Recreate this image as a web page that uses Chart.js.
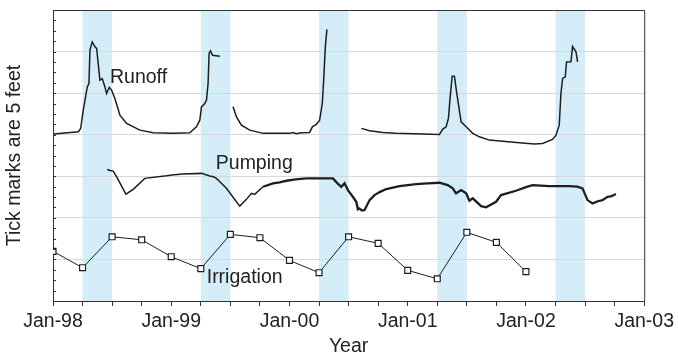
<!DOCTYPE html>
<html><head><meta charset="utf-8">
<script src="https://cdn.jsdelivr.net/npm/chart.js@4.4.1/dist/chart.umd.min.js"></script>
<style>html,body{margin:0;padding:0;background:#fff}canvas{display:block}</style>
</head><body>
<canvas id="c" width="678" height="356"></canvas>
<script>
// x values are months since Jan-98, y values are in tick units (1 tick = 5 feet)
const yearLabels = ['Jan-98','Jan-99','Jan-00','Jan-01','Jan-02','Jan-03'];
const bandStarts = [3, 15, 27, 39, 51];
const bandEnds   = [6, 18, 30, 42, 54];

const runoffSeg1 = [[0.1,16.06],[2.56,16.28],[2.81,16.6],[3.07,18.37],[3.48,20.6],[3.65,20.93],[3.75,24.13],[3.98,24.93],[4.26,24.45],[4.43,24.3],[4.76,21.25],[5.0,21.4],[5.27,20.6],[5.44,19.97],[5.71,20.55],[5.95,20.29],[6.28,19.49],[6.79,17.88],[7.47,17.09],[8.82,16.44],[10.17,16.18],[12.19,16.13],[13.88,16.18],[14.56,16.76],[14.9,17.4],[15.07,18.68],[15.4,19.0],[15.58,19.33],[15.74,20.93],[15.84,23.82],[15.98,24.07],[16.19,23.65],[16.93,23.56]];
const runoffSeg2 = [[18.27,18.68],[18.62,17.72],[19.12,16.92],[19.97,16.44],[21.31,16.13],[24.02,16.13],[24.35,16.22],[24.7,16.09],[25.21,16.18],[26.05,16.22],[26.32,16.76],[26.72,16.99],[27.06,17.4],[27.33,19.0],[27.47,21.25],[27.64,24.45],[27.8,26.13]];
const runoffSeg3 = [[31.29,16.61],[32.13,16.38],[33.48,16.22],[34.83,16.13],[37.53,16.06],[39.22,16.03],[39.56,16.54],[39.9,16.76],[40.13,17.57],[40.31,19.64],[40.51,21.63],[40.74,21.63],[40.98,19.97],[41.42,17.24],[41.93,16.76],[42.6,16.13],[43.27,15.8],[44.29,15.48],[47.33,15.22],[48.85,15.1],[49.69,15.16],[50.7,15.55],[51.05,15.96],[51.21,16.44],[51.38,16.92],[51.55,19.97],[51.72,21.41],[51.99,21.57],[52.12,23.0],[52.57,23.01],[52.73,24.49],[53.08,23.97],[53.24,23.01]];
const pumping = [[5.5,12.66],[5.8,12.55],[6.11,12.5],[6.46,11.95],[7.4,10.29],[8.14,10.74],[9.32,11.8],[11.52,12.05],[12.03,12.12],[13.21,12.21],[15.07,12.28],[15.91,12.02],[16.3,11.95],[16.59,11.8],[16.93,11.47],[17.6,10.84],[18.95,9.13],[19.63,9.78],[20.14,10.36],[20.47,10.26],[21.31,10.99],[22.33,11.32],[23.0,11.42],[23.69,11.57],[24.6,11.7],[25.71,11.8],[28.41,11.8],[28.9,11.3],[29.26,10.99],[29.59,11.32],[29.93,10.67],[30.43,10.03],[30.78,9.55],[30.94,8.82],[31.11,8.9],[31.35,8.7],[31.62,8.75],[32.13,9.71],[32.63,10.19],[33.2,10.5],[33.82,10.77],[35.17,11.06],[36.86,11.25],[38.0,11.32],[39.22,11.38],[40.06,11.15],[40.57,10.84],[40.91,10.36],[41.42,10.67],[41.93,10.36],[42.26,9.64],[42.6,9.88],[43.45,9.13],[43.95,9.01],[44.97,9.55],[45.47,10.19],[46.99,10.61],[48.0,10.95],[48.68,11.15],[50.37,11.06],[52.4,11.06],[53.2,11.0],[53.74,10.84],[54.25,9.71],[54.76,9.39],[55.3,9.6],[55.77,9.71],[56.28,10.03],[56.7,10.1],[57.13,10.29]];
const irrigationMonths = [0, 3, 6, 9, 12, 15, 18, 21, 24, 27, 30, 33, 36, 39, 42, 45, 48];
const irrigationValues = [4.78, 3.2, 6.18, 5.89, 4.26, 3.11, 6.41, 6.09, 3.91, 2.72, 6.18, 5.55, 2.95, 2.14, 6.61, 5.64, 2.82];
const seriesNames = ['Runoff', 'Pumping', 'Irrigation'];
const nameAnchorX = [5.78, 16.52, 15.6];
const nameAnchorY = [20.93, 12.69, 1.78];

const FONT = '"Liberation Sans", Arial, sans-serif';
const toXY = a => a.map(p => ({x: p[0], y: p[1]}));

const bandPlugin = {
  id: 'bands',
  beforeDraw(chart) {
    const {ctx, chartArea: a, scales: {x}} = chart;
    ctx.save();
    ctx.fillStyle = '#d5ecf9';
    for (let i = 0; i < bandStarts.length; i++) {
      const x1 = x.getPixelForValue(bandStarts[i]);
      const x2 = x.getPixelForValue(bandEnds[i]);
      ctx.fillRect(x1, a.top, x2 - x1, a.bottom - a.top);
    }
    ctx.restore();
  }
};

const framePlugin = {
  id: 'frame',
  afterDatasetsDraw(chart) {
    const {ctx, chartArea: a, scales: {x, y}} = chart;
    ctx.save();
    ctx.strokeStyle = '#333';
    ctx.lineWidth = 1;
    ctx.beginPath();
    ctx.moveTo(a.left, a.top + 0.5);
    ctx.lineTo(a.right + 0.5, a.top + 0.5);
    ctx.lineTo(a.right + 0.5, a.bottom);
    ctx.stroke();
    ctx.beginPath();
    y.ticks.forEach(t => {
      const py = Math.round(y.getPixelForValue(t.value)) + 0.5;
      ctx.moveTo(a.left, py);
      ctx.lineTo(a.left + 3, py);
    });
    ctx.stroke();
    ctx.fillStyle = '#222';
    ctx.font = '19.5px ' + FONT;
    ctx.textAlign = 'left';
    ctx.textBaseline = 'alphabetic';
    for (let i = 0; i < seriesNames.length; i++) {
      ctx.fillText(seriesNames[i], x.getPixelForValue(nameAnchorX[i]), y.getPixelForValue(nameAnchorY[i]));
    }
    ctx.restore();
  }
};

const lineStyle = {borderColor: '#1e1e1e', borderWidth: 1.5, pointRadius: 0, tension: 0, fill: false};

new Chart(document.getElementById('c'), {
  type: 'line',
  data: {
    datasets: [
      Object.assign({label: 'Runoff', data: toXY(runoffSeg1)}, lineStyle),
      Object.assign({label: 'Runoff', data: toXY(runoffSeg2)}, lineStyle),
      Object.assign({label: 'Runoff', data: toXY(runoffSeg3)}, lineStyle),
      Object.assign({label: 'Pumping', data: toXY(pumping),
        segment: {borderWidth: c => (c.p0.parsed.x >= 21 ? 2.3 : 1.5)}}, lineStyle),
      {label: 'Irrigation', data: irrigationMonths.map((m, i) => ({x: m, y: irrigationValues[i]})),
       borderColor: '#1e1e1e', borderWidth: 1, tension: 0, fill: false,
       pointStyle: 'rect', pointRadius: 4.2, pointBackgroundColor: '#fff', pointBorderColor: '#1e1e1e', pointBorderWidth: 1.2}
    ]
  },
  options: {
    animation: false, responsive: false, devicePixelRatio: 1,
    layout: {padding: {left: 0, right: 33, top: 10, bottom: 0}},
    plugins: {legend: {display: false}, tooltip: {enabled: false}},
    scales: {
      x: {
        type: 'linear', min: 0, max: 60,
        afterBuildTicks: s => { s.ticks = []; for (let v = 0; v <= 60; v += 3) s.ticks.push({value: v}); },
        ticks: {autoSkip: false, maxRotation: 0, padding: 4, color: '#222',
                font: {family: FONT, size: 19.5},
                callback: v => (v % 12 === 0 ? yearLabels[v / 12] : '')},
        grid: {drawOnChartArea: false, tickLength: 5, tickColor: '#333', tickWidth: 1},
        border: {color: '#333', width: 1},
        title: {display: true, text: 'Year', color: '#222', padding: 0, font: {family: FONT, size: 19.5, lineHeight: 1}},
        afterFit: s => { s.height = 55; }
      },
      y: {
        min: 0, max: 28,
        afterBuildTicks: s => { s.ticks = []; for (let v = 0; v <= 28; v++) s.ticks.push({value: v}); },
        ticks: {display: false},
        grid: {drawTicks: false, color: c => (c.tick && c.tick.value % 4 === 0 ? '#d9d9d9' : 'rgba(0,0,0,0)'), lineWidth: 1},
        border: {color: '#333', width: 1},
        title: {display: true, text: 'Tick marks are 5 feet', color: '#222', padding: {top: 3, bottom: 0}, font: {family: FONT, size: 19.5}},
        afterFit: s => { s.width = 53; }
      }
    }
  },
  plugins: [bandPlugin, framePlugin]
});
</script>
</body></html>
